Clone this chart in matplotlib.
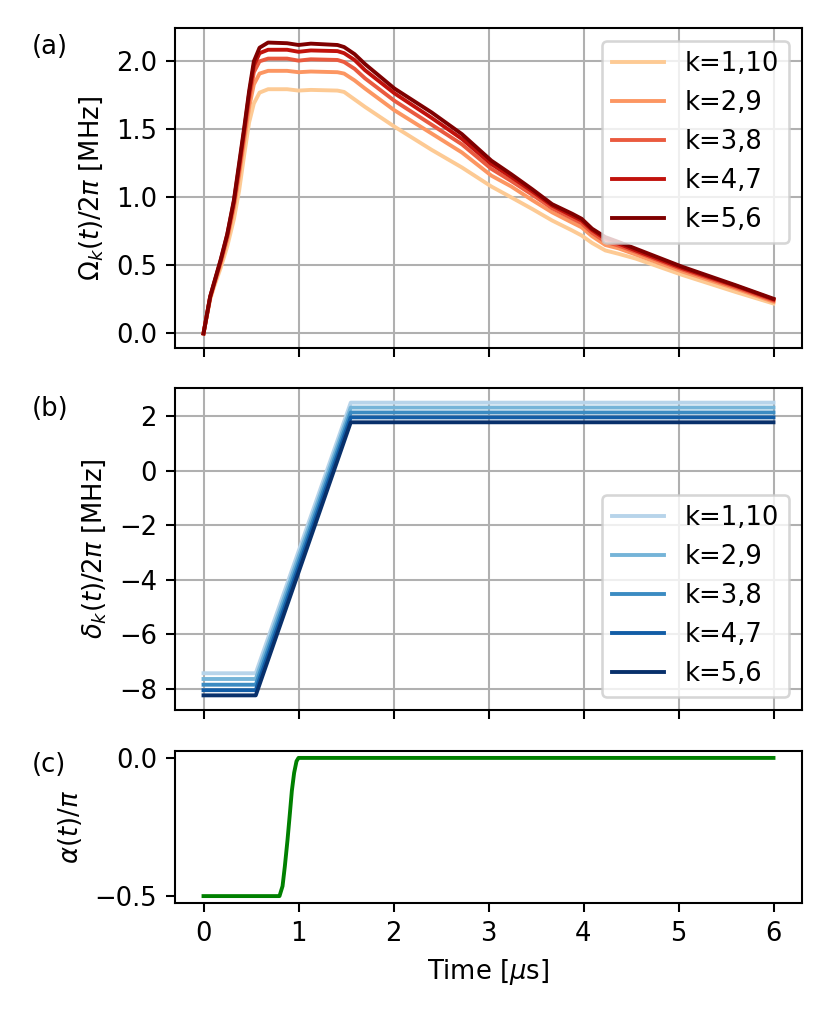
import matplotlib
matplotlib.use('Agg')
import matplotlib.pyplot as plt
import numpy as np

# (a) Rabi frequencies
t_om = [0, 0.07, 0.11, 0.18, 0.25, 0.32, 0.375, 0.43, 0.48, 0.53, 0.59, 0.68,
        0.88, 1.0, 1.13, 1.41, 1.48, 1.59, 1.70, 2.01, 2.40, 2.72, 3.03, 3.24,
        3.46, 3.67, 3.88, 3.98, 4.09, 4.23, 4.37, 4.55, 5.04, 5.60, 6.0]
om_1_10 = [0, 0.25, 0.34, 0.48, 0.64, 0.84, 1.05, 1.32, 1.55, 1.69, 1.77, 1.795,
           1.795, 1.785, 1.79, 1.785, 1.775, 1.72, 1.665, 1.52, 1.35, 1.22, 1.08, 1.0,
           0.915, 0.83, 0.757, 0.72, 0.665, 0.61, 0.585, 0.55, 0.43, 0.305, 0.22]
om_2_9 = [0, 0.26, 0.355, 0.51, 0.69, 0.92, 1.16, 1.42, 1.66, 1.83, 1.91, 1.93,
          1.93, 1.92, 1.925, 1.92, 1.91, 1.86, 1.80, 1.64, 1.47, 1.33, 1.16, 1.08,
          0.98, 0.89, 0.815, 0.78, 0.715, 0.65, 0.625, 0.58, 0.455, 0.33, 0.233]
om_3_8 = [0, 0.265, 0.36, 0.525, 0.71, 0.95, 1.20, 1.47, 1.72, 1.92, 2.0, 2.02,
          2.02, 2.005, 2.015, 2.01, 1.995, 1.945, 1.875, 1.71, 1.535, 1.39, 1.21, 1.12,
          1.02, 0.92, 0.845, 0.81, 0.74, 0.675, 0.645, 0.60, 0.47, 0.34, 0.242]
om_4_7 = [0, 0.27, 0.365, 0.535, 0.725, 0.97, 1.23, 1.50, 1.76, 1.97, 2.06, 2.085,
          2.085, 2.07, 2.08, 2.075, 2.06, 2.01, 1.935, 1.765, 1.585, 1.43, 1.245, 1.15,
          1.045, 0.94, 0.865, 0.83, 0.76, 0.695, 0.66, 0.61, 0.48, 0.35, 0.25]
om_5_6 = [0, 0.27, 0.37, 0.54, 0.73, 0.98, 1.25, 1.52, 1.78, 2.0, 2.10, 2.138,
          2.133, 2.12, 2.13, 2.12, 2.105, 2.053, 1.98, 1.80, 1.625, 1.465, 1.27, 1.17,
          1.06, 0.95, 0.88, 0.843, 0.77, 0.708, 0.672, 0.623, 0.49, 0.355, 0.255]

# (b) detunings
t_de = [0, 0.55, 1.55, 6.0]
de_1_10 = [-7.42, -7.42, 2.49, 2.49]
de_2_9 = [-7.63, -7.63, 2.31, 2.31]
de_3_8 = [-7.84, -7.84, 2.13, 2.13]
de_4_7 = [-8.04, -8.04, 1.95, 1.95]
de_5_6 = [-8.23, -8.23, 1.77, 1.77]

# (c) phase
t_al = [0, 0.80, 0.832, 0.856, 0.884, 0.909, 0.930, 0.954, 0.979, 1.0, 6.0]
alpha = [-0.5, -0.5, -0.464, -0.393, -0.298, -0.202, -0.119, -0.054, -0.012, 0.0, 0.0]

labels = ['k=1,10', 'k=2,9', 'k=3,8', 'k=4,7', 'k=5,6']
om = [om_1_10, om_2_9, om_3_8, om_4_7, om_5_6]
de = [de_1_10, de_2_9, de_3_8, de_4_7, de_5_6]

reds = plt.cm.OrRd(np.linspace(0.3, 1.0, 5))
blues = plt.cm.Blues(np.linspace(0.3, 1.0, 5))

W, H = 830, 1015
DPI = 186
fig = plt.figure(figsize=(W / DPI, H / DPI), dpi=DPI)

def box(l, r, t, b):
    return [l / W, 1 - b / H, (r - l) / W, (b - t) / H]

ax1 = fig.add_axes(box(175, 802, 28, 348))
ax2 = fig.add_axes(box(175, 802, 388, 710), sharex=ax1)
ax3 = fig.add_axes(box(175, 802, 751, 903), sharex=ax1)

for i in range(5):
    ax1.plot(t_om, om[i], color=reds[i], label=labels[i])
ax1.set_ylabel(r'$\Omega_k(t)/2\pi$ [MHz]')
ax1.grid(True)
ax1.legend(loc='upper right')
ax1.tick_params(labelbottom=False)

for i in range(5):
    ax2.plot(t_de, de[i], color=blues[i], label=labels[i])
ax2.set_ylabel(r'$\delta_k(t)/2\pi$ [MHz]')
ax2.grid(True)
ax2.legend(loc='lower right')
ax2.tick_params(labelbottom=False)

ax3.plot(t_al, alpha, color='g')
ax3.set_yticks([-0.5, 0.0])
ax3.set_ylabel(r'$\alpha(t)/\pi$')
ax3.set_xlabel(r'Time [$\mu$s]')
ax1.set_xticks(range(7))

fig.text(32 / W, 1 - 47 / H, '(a)', va='center')
fig.text(32 / W, 1 - 409 / H, '(b)', va='center')
fig.text(32 / W, 1 - 765 / H, '(c)', va='center')

fig.savefig('out.png', dpi=DPI)
